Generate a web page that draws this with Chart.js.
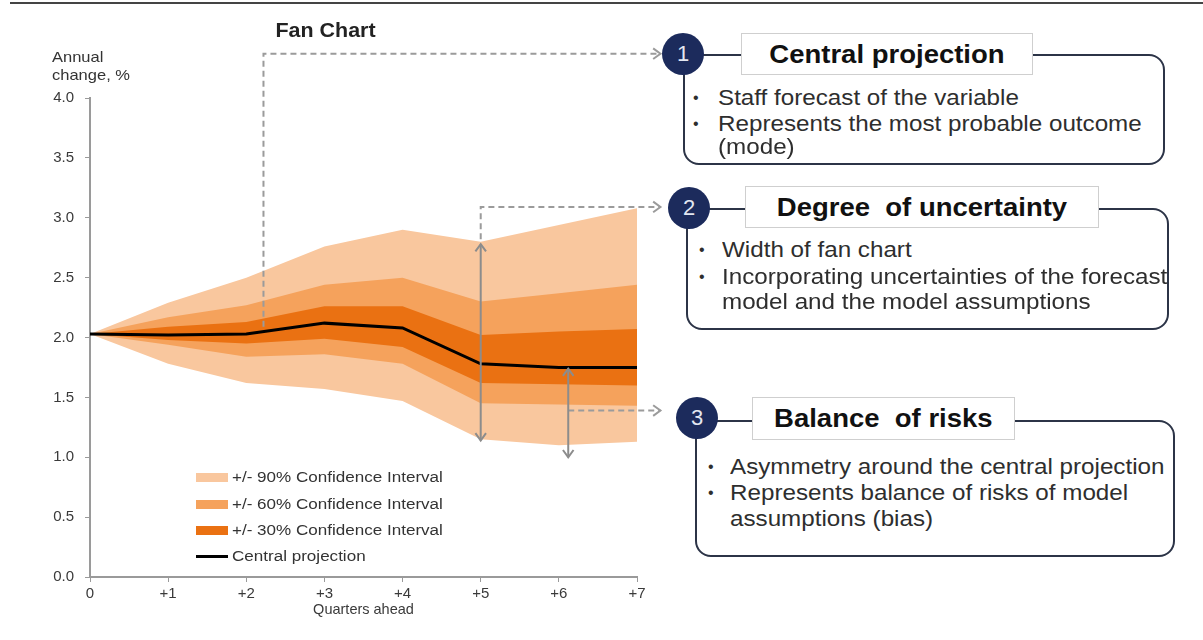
<!DOCTYPE html>
<html>
<head>
<meta charset="utf-8">
<title>Fan Chart</title>
<script src="https://cdn.jsdelivr.net/npm/chart.js@4.4.1/dist/chart.umd.min.js"></script>
<style>
  body {
    margin: 0;
    width: 1203px;
    height: 640px;
    position: relative;
    overflow: hidden;
    background: #fff;
    font-family: 'Liberation Sans', Arial, sans-serif;
    color: #333;
  }
  #fanChart { position: absolute; left: 0; top: 0; }
  .rule { position: absolute; left: 10px; right: 0; top: 2px; height: 2px; background: #444; }
  .wide { display: inline-block; white-space: nowrap; transform: scaleX(1.1); transform-origin: left center; }
  .abs { position: absolute; white-space: nowrap; }
  .chart-title { left: 226px; top: 19px; width: 200px; text-align: center; font-weight: bold; font-size: 19.5px; line-height: 22px; color: #222; }
  .chart-title .wide { transform-origin: center center; }
  .y-title { left: 52px; top: 48px; font-size: 15px; line-height: 18px; color: #333; }
  .legend-row { position: absolute; left: 196px; height: 18px; }
  .legend-swatch { position: absolute; left: 0; width: 32px; }
  .legend-text { position: absolute; left: 36px; top: 0; font-size: 15.5px; line-height: 18px; color: #333; }
  .panel { position: absolute; box-sizing: border-box; border: 2px solid #2c3447; border-radius: 16px; background: #fff; }
  .badge { position: absolute; width: 42px; height: 42px; border-radius: 50%; background: #1c2b5c; color: #e3e7f1; font-size: 22px; line-height: 42px; text-align: center; z-index: 2; }
  .head { position: absolute; box-sizing: border-box; height: 42px; background: #fff; border: 1px solid #cfcfcf; font-weight: bold; font-size: 25px; line-height: 40px; text-align: center; color: #111; z-index: 2; }
  .head .wide { transform-origin: center center; }
  .item { position: absolute; font-size: 22px; line-height: 26px; white-space: nowrap; color: #2e2e2e; }
  .dot { position: absolute; font-size: 16px; line-height: 26px; color: #2e2e2e; }
</style>
</head>
<body>
<div class="rule"></div>
<canvas id="fanChart" width="1203" height="640"></canvas>

<div class="abs chart-title"><span class="wide">Fan Chart</span></div>
<div class="abs y-title"><span class="wide">Annual</span><br><span class="wide">change, %</span></div>
<div id="legend"></div>

<!-- 1: central projection -->
<div class="panel" style="left:683px; top:54px; width:482px; height:111px;">
  <span class="dot" style="left:8px; top:29px;">•</span>
  <span class="item" style="left:33px; top:29px;"><span class="wide">Staff forecast of the variable</span></span>
  <span class="dot" style="left:8px; top:55px;">•</span>
  <span class="item" style="left:33px; top:55px;"><span class="wide">Represents the most probable outcome</span></span>
  <span class="item" style="left:33px; top:78px;"><span class="wide">(mode)</span></span>
</div>
<div class="badge" style="left:662px; top:33px;">1</div>
<div class="head" style="left:741px; top:33px; width:292px;"><span class="wide">Central projection</span></div>

<!-- 2: degree of uncertainty -->
<div class="panel" style="left:686px; top:208px; width:483px; height:122px;">
  <span class="dot" style="left:11px; top:27px;">•</span>
  <span class="item" style="left:34px; top:27px;"><span class="wide">Width of fan chart</span></span>
  <span class="dot" style="left:11px; top:54px;">•</span>
  <span class="item" style="left:34px; top:54px;"><span class="wide">Incorporating uncertainties of the forecast</span></span>
  <span class="item" style="left:34px; top:79px;"><span class="wide">model and the model assumptions</span></span>
</div>
<div class="badge" style="left:668px; top:187px;">2</div>
<div class="head" style="left:745px; top:186px; width:354px;"><span class="wide">Degree&nbsp; of uncertainty</span></div>

<!-- 3: balance of risks -->
<div class="panel" style="left:695px; top:420px; width:480px; height:137px;">
  <span class="dot" style="left:11px; top:32px;">•</span>
  <span class="item" style="left:33px; top:32px;"><span class="wide">Asymmetry around the central projection</span></span>
  <span class="dot" style="left:11px; top:58px;">•</span>
  <span class="item" style="left:33px; top:58px;"><span class="wide">Represents balance of risks of model</span></span>
  <span class="item" style="left:33px; top:84px;"><span class="wide">assumptions (bias)</span></span>
</div>
<div class="badge" style="left:676px; top:397px;">3</div>
<div class="head" style="left:752px; top:397px; width:263px; height:43px;"><span class="wide">Balance&nbsp; of risks</span></div>

<script>
// quarters ahead and annual change (%)
const quarters = ['0', '+1', '+2', '+3', '+4', '+5', '+6', '+7'];
const central = [2.03, 2.02, 2.03, 2.12, 2.08, 1.78, 1.75, 1.75];
const upper90 = [2.03, 2.29, 2.50, 2.76, 2.90, 2.80, 2.94, 3.08];
const lower90 = [2.03, 1.78, 1.62, 1.57, 1.47, 1.15, 1.10, 1.13];
const upper60 = [2.03, 2.17, 2.27, 2.44, 2.50, 2.30, 2.37, 2.44];
const lower60 = [2.03, 1.94, 1.84, 1.86, 1.78, 1.45, 1.44, 1.43];
const upper30 = [2.03, 2.09, 2.13, 2.26, 2.26, 2.02, 2.05, 2.07];
const lower30 = [2.03, 1.98, 1.95, 1.99, 1.92, 1.62, 1.61, 1.60];
const yTicks = [0, 0.5, 1, 1.5, 2, 2.5, 3, 3.5, 4];

const bandNames = ['+/- 90% Confidence Interval', '+/- 60% Confidence Interval', '+/- 30% Confidence Interval'];
const lineName = 'Central projection';

const colors = {
  band90: '#f9c79e',
  band60: '#f5a25c',
  band30: '#ea7112',
  line: '#000000',
  axis: '#9a9a9a',
  tick: '#3a3a3a',
  dashed: '#9b9b9b',
  arrow: '#8c8c8c'
};

Chart.defaults.font.family = "'Liberation Sans', Arial, sans-serif";
Chart.defaults.font.size = 15;

// callouts linking the chart to the explanation boxes (in data units)
const callouts = [
  { dashed: true, pts: [[2.22, 2.09], [2.22, 4.37], [7.3, 4.37]], heads: 'end' },
  { dashed: true, pts: [[5, 2.82], [5, 3.09], [7.3, 3.09]], heads: 'end' },
  { dashed: true, pts: [[6.12, 1.39], [7.3, 1.39]], heads: 'end' },
  { dashed: false, pts: [[5, 2.78], [5, 1.14]], heads: 'both' },
  { dashed: false, pts: [[6.12, 1.74], [6.12, 1.0]], heads: 'both' }
];

function bandPair(name, upper, lower, color, order, lowerIndex) {
  return [
    {
      label: name,
      data: upper,
      backgroundColor: color,
      borderColor: 'rgba(0,0,0,0)',
      borderWidth: 0,
      pointRadius: 0,
      tension: 0,
      fill: { target: lowerIndex },
      order: order
    },
    {
      label: name + ' (lower)',
      data: lower,
      borderColor: 'rgba(0,0,0,0)',
      borderWidth: 0,
      pointRadius: 0,
      tension: 0,
      fill: false,
      order: order
    }
  ];
}

function drawHead(ctx, tip, from) {
  const ang = Math.atan2(tip[1] - from[1], tip[0] - from[0]);
  const len = 9;
  const spread = Math.PI / 5;
  ctx.beginPath();
  ctx.moveTo(tip[0] - len * Math.cos(ang - spread), tip[1] - len * Math.sin(ang - spread));
  ctx.lineTo(tip[0], tip[1]);
  ctx.lineTo(tip[0] - len * Math.cos(ang + spread), tip[1] - len * Math.sin(ang + spread));
  ctx.stroke();
}

const calloutPlugin = {
  id: 'callouts',
  afterDraw(chart) {
    const { ctx, scales } = chart;
    ctx.save();
    ctx.lineWidth = 2;
    callouts.forEach(c => {
      const pts = c.pts.map(p => [scales.x.getPixelForValue(p[0]), scales.y.getPixelForValue(p[1])]);
      ctx.strokeStyle = c.dashed ? colors.dashed : colors.arrow;
      ctx.setLineDash(c.dashed ? [6, 4] : []);
      ctx.beginPath();
      ctx.moveTo(pts[0][0], pts[0][1]);
      for (let i = 1; i < pts.length; i++) ctx.lineTo(pts[i][0], pts[i][1]);
      ctx.stroke();
      ctx.setLineDash([]);
      const n = pts.length;
      drawHead(ctx, pts[n - 1], pts[n - 2]);
      if (c.heads === 'both') drawHead(ctx, pts[0], pts[1]);
    });
    ctx.restore();
  }
};

function buildLegend() {
  const legend = document.getElementById('legend');
  const rows = [
    { text: bandNames[0], color: colors.band90, h: 9 },
    { text: bandNames[1], color: colors.band60, h: 9 },
    { text: bandNames[2], color: colors.band30, h: 9 },
    { text: lineName, color: colors.line, h: 3 }
  ];
  const centers = [477, 504, 530, 556];
  legend.innerHTML = rows.map((r, i) => `
    <div class="legend-row" style="top:${centers[i] - 9}px;">
      <span class="legend-swatch" style="top:${9 - r.h / 2}px; height:${r.h}px; background:${r.color};"></span>
      <span class="legend-text"><span class="wide">${r.text}</span></span>
    </div>
  `).join('');
}

const datasets = [
  {
    label: lineName,
    data: central,
    borderColor: colors.line,
    borderWidth: 3,
    pointRadius: 0,
    tension: 0,
    fill: false,
    order: 0
  },
  ...bandPair(bandNames[2], upper30, lower30, colors.band30, 1, 2),
  ...bandPair(bandNames[1], upper60, lower60, colors.band60, 2, 4),
  ...bandPair(bandNames[0], upper90, lower90, colors.band90, 3, 6)
];

const ctx = document.getElementById('fanChart').getContext('2d');
new Chart(ctx, {
  type: 'line',
  data: { labels: quarters, datasets: datasets },
  options: {
    responsive: false,
    animation: false,
    layout: { padding: { top: 98, right: 566, left: 0, bottom: 0 } },
    plugins: {
      legend: { display: false },
      tooltip: { enabled: false },
      filler: { propagate: false }
    },
    scales: {
      x: {
        type: 'category',
        offset: false,
        grid: { drawOnChartArea: false, tickLength: 5, color: colors.axis, lineWidth: 1 },
        border: { color: colors.axis, width: 2 },
        ticks: {
          color: colors.tick,
          font: { size: 15 },
          padding: 3,
          maxRotation: 0,
          autoSkip: false
        },
        title: {
          display: true,
          text: 'Quarters ahead',
          color: colors.tick,
          font: { size: 14.5 },
          padding: { top: 0, bottom: 21 }
        },
        afterFit: scale => { scale.height = 63; }
      },
      y: {
        min: 0,
        max: 4,
        afterBuildTicks: scale => { scale.ticks = yTicks.map(v => ({ value: v })); },
        grid: { drawOnChartArea: false, tickLength: 5, color: colors.axis, lineWidth: 1 },
        border: { color: colors.axis, width: 2 },
        ticks: {
          color: colors.tick,
          font: { size: 15 },
          padding: 11,
          callback: v => Number(v).toFixed(1)
        },
        afterFit: scale => { scale.width = 90; }
      }
    }
  },
  plugins: [calloutPlugin]
});

buildLegend();
</script>
</body>
</html>
